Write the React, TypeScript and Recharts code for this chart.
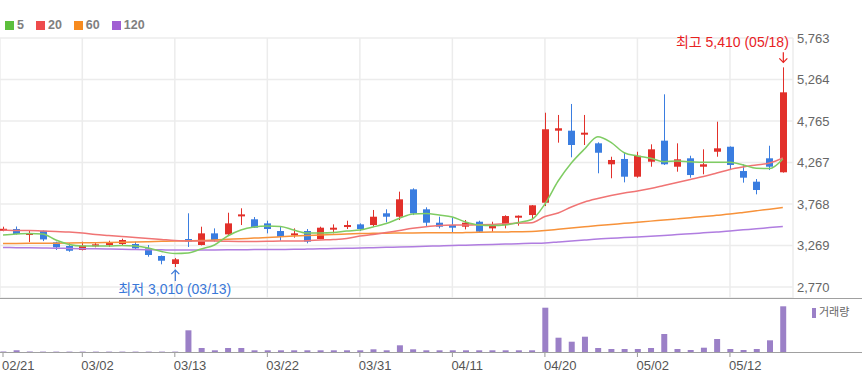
import { ComposedChart, Bar, Line, XAxis, YAxis, CartesianGrid, ReferenceDot } from 'recharts'

// 거래일 (2023)
const dates = [
  '02/21', '02/22', '02/23', '02/24', '02/27', '02/28', '03/02', '03/03', '03/06', '03/07',
  '03/08', '03/09', '03/10', '03/13', '03/14', '03/15', '03/16', '03/17', '03/20', '03/21',
  '03/22', '03/23', '03/24', '03/27', '03/28', '03/29', '03/30', '03/31', '04/03', '04/04',
  '04/05', '04/06', '04/07', '04/10', '04/11', '04/12', '04/13', '04/14', '04/17', '04/18',
  '04/19', '04/20', '04/21', '04/24', '04/25', '04/26', '04/27', '04/28', '05/02', '05/03',
  '05/04', '05/08', '05/09', '05/10', '05/11', '05/12', '05/15', '05/16', '05/17', '05/18',
]

const opens = [
  3460, 3467, 3395, 3446, 3307, 3263, 3215, 3263, 3275, 3287,
  3287, 3235, 3143, 3047, 3347, 3275, 3415, 3403, 3623, 3584,
  3535, 3443, 3395, 3443, 3347, 3463, 3495, 3523, 3515, 3656,
  3615, 3944, 3704, 3543, 3515, 3495, 3555, 3475, 3515, 3611,
  3635, 3783, 4649, 4649, 4609, 4497, 4245, 4309, 4096, 4276,
  4529, 4216, 4317, 4216, 4396, 4456, 4164, 4036, 4317, 4149,
]
const highs = [
  3495, 3497, 3443, 3450, 3315, 3299, 3315, 3307, 3327, 3351,
  3315, 3275, 3150, 3119, 3656, 3495, 3475, 3663, 3716, 3611,
  3567, 3495, 3475, 3467, 3495, 3523, 3567, 3535, 3696, 3704,
  3916, 3956, 3728, 3615, 3607, 3575, 3567, 3555, 3632, 3630,
  3755, 4865, 4838, 4970, 4838, 4509, 4336, 4389, 4396, 4485,
  5086, 4497, 4348, 4425, 4757, 4460, 4245, 4068, 4468, 5410,
]
const lows = [
  3440, 3400, 3311, 3322, 3215, 3194, 3210, 3247, 3251, 3267,
  3215, 3134, 3043, 3010, 3251, 3270, 3315, 3383, 3515, 3480,
  3415, 3327, 3363, 3295, 3345, 3415, 3467, 3443, 3495, 3547,
  3575, 3635, 3503, 3475, 3423, 3463, 3423, 3435, 3475, 3507,
  3584, 3743, 4505, 4329, 4477, 4137, 4077, 4028, 4084, 4216,
  4237, 4156, 4084, 4125, 4336, 4176, 4024, 3884, 4176, 4145,
]
const closes = [
  3470, 3407, 3419, 3342, 3247, 3206, 3267, 3283, 3307, 3335,
  3235, 3155, 3086, 3103, 3315, 3415, 3335, 3535, 3643, 3483,
  3467, 3375, 3415, 3315, 3483, 3483, 3515, 3467, 3615, 3615,
  3824, 3656, 3543, 3495, 3483, 3543, 3435, 3503, 3623, 3627,
  3752, 4666, 4678, 4477, 4625, 4384, 4297, 4096, 4348, 4425,
  4245, 4305, 4116, 4245, 4437, 4237, 4084, 3936, 4216, 5110,
]

const ma5 = [
  3395, 3407, 3413, 3407, 3335, 3281, 3263, 3263, 3263, 3269,
  3263, 3239, 3197, 3173, 3179, 3227, 3275, 3383, 3455, 3491,
  3503, 3497, 3455, 3419, 3419, 3425, 3443, 3455, 3491, 3533,
  3596, 3647, 3654, 3635, 3611, 3551, 3515, 3509, 3515, 3545,
  3582, 3768, 4044, 4261, 4429, 4577, 4509, 4384, 4345, 4317,
  4276, 4285, 4276, 4269, 4269, 4269, 4237, 4197, 4194, 4309,
]
const ma20 = [
  3455, 3449, 3449, 3443, 3437, 3431, 3419, 3401, 3389, 3377,
  3365, 3353, 3341, 3329, 3323, 3323, 3323, 3319, 3317, 3317,
  3319, 3323, 3323, 3327, 3335, 3341, 3353, 3383, 3400, 3425,
  3450, 3475, 3495, 3510, 3515, 3515, 3517, 3522, 3530, 3537,
  3543, 3617, 3659, 3732, 3792, 3834, 3870, 3900, 3924, 3954,
  3990, 4026, 4062, 4098, 4140, 4183, 4213, 4237, 4261, 4321,
]
const ma60 = [
  3293, 3294, 3295, 3296, 3297, 3299, 3301, 3303, 3306, 3308,
  3311, 3315, 3319, 3323, 3326, 3329, 3336, 3343, 3350, 3358,
  3365, 3374, 3383, 3390, 3396, 3402, 3408, 3413, 3415, 3417,
  3419, 3420, 3421, 3422, 3422, 3424, 3427, 3430, 3432, 3434,
  3437, 3449, 3464, 3479, 3494, 3509, 3522, 3535, 3548, 3562,
  3575, 3589, 3603, 3617, 3632, 3647, 3666, 3686, 3706, 3726,
]
const ma120 = [
  3245, 3243, 3241, 3239, 3237, 3233, 3231, 3229, 3226, 3223,
  3221, 3219, 3217, 3215, 3215, 3215, 3216, 3217, 3218, 3220,
  3221, 3222, 3223, 3226, 3229, 3233, 3236, 3239, 3243, 3247,
  3251, 3255, 3260, 3264, 3269, 3273, 3278, 3282, 3286, 3290,
  3295, 3299, 3311, 3323, 3335, 3347, 3355, 3364, 3372, 3380,
  3389, 3400, 3410, 3421, 3432, 3443, 3457, 3470, 3484, 3498,
]

// 거래량 (상대값)
const volumes = [
  4, 17, 4, 4, 4, 4, 4, 4, 4, 4,
  4, 4, 4, 4, 217, 40, 17, 40, 40, 17,
  17, 17, 17, 17, 17, 17, 17, 17, 27, 17,
  67, 27, 17, 17, 17, 17, 17, 17, 17, 17,
  17, 443, 143, 103, 153, 40, 30, 30, 30, 40,
  180, 30, 20, 43, 130, 30, 20, 30, 117, 457,
]

const tickLabels = ['02/21', '03/02', '03/13', '03/22', '03/31', '04/11', '04/20', '05/02', '05/12']
const priceTicks = [2770, 3269, 3768, 4267, 4765, 5264, 5763]
const maLabels = ['5', '20', '60', '120']

const UP = '#e2302a'
const DOWN = '#3a7de0'
const MA_COLORS = ['#5dbf3c', '#ee4b4b', '#f78b1f', '#a15fd3']
const MA_LINE = ['#7fcc63', '#f07474', '#f7923a', '#b07de0']
const VOL = '#9b80c7'
const FONT = "'Liberation Sans', Arial, 'Noto Sans CJK KR', sans-serif"

const X_DOMAIN: [number, number] = [-0.227, 59.77]

const data = dates.map((d, i) => ({
  i,
  date: d,
  open: opens[i],
  high: highs[i],
  low: lows[i],
  close: closes[i],
  range: [lows[i], highs[i]],
  ma5: ma5[i],
  ma20: ma20[i],
  ma60: ma60[i],
  ma120: ma120[i],
  volume: volumes[i],
}))

const tickIdx = tickLabels.map((t) => dates.indexOf(t))

const hiIdx = highs.indexOf(Math.max(...highs))
const loIdx = lows.indexOf(Math.min(...lows))
const fmt = (n: number) => n.toLocaleString('en-US')

function Candle(props: any) {
  const { x, y, width, height, payload } = props
  if (!payload) return null
  const { open, close, high, low } = payload
  const top = Math.min(y, y + height)
  const h = Math.abs(height)
  const k = high === low ? 0 : h / (high - low)
  const py = (p: number) => top + (high - p) * k
  const color = close >= open ? UP : DOWN
  const cx = Math.round(x + width / 2) + 0.5
  const bTop = py(Math.max(open, close))
  const bBot = py(Math.min(open, close))
  return (
    <g>
      <line x1={cx} x2={cx} y1={top} y2={top + h} stroke={color} strokeWidth={1} />
      <rect x={cx - 3.5} y={bTop} width={7} height={Math.max(bBot - bTop, 2)} fill={color} />
    </g>
  )
}

function HighMark({ cx, cy }: any) {
  return (
    <g>
      <text x={cx + 6} y={cy - 20} textAnchor="end" fill="#e8221f" fontSize={14}>
        {`최고 ${fmt(highs[hiIdx])} (${dates[hiIdx]})`}
      </text>
      <line x1={cx + 0.5} x2={cx + 0.5} y1={cy - 15} y2={cy - 5} stroke="#e8221f" strokeWidth={1.2} />
      <path d={`M${cx - 3.5} ${cy - 9} L${cx + 0.5} ${cy - 5} L${cx + 4.5} ${cy - 9}`} stroke="#e8221f" strokeWidth={1.2} fill="none" />
    </g>
  )
}

function LowMark({ cx, cy }: any) {
  return (
    <g>
      <line x1={cx + 0.5} x2={cx + 0.5} y1={cy + 3} y2={cy + 14} stroke="#3a78d8" strokeWidth={1.2} />
      <path d={`M${cx - 3.5} ${cy + 7} L${cx + 0.5} ${cy + 3} L${cx + 4.5} ${cy + 7}`} stroke="#3a78d8" strokeWidth={1.2} fill="none" />
      <text x={cx} y={cy + 27} textAnchor="middle" fill="#3a78d8" fontSize={14}>
        {`최저 ${fmt(lows[loIdx])} (${dates[loIdx]})`}
      </text>
    </g>
  )
}

function DateTick({ x, y, payload }: any) {
  return (
    <text x={x - 1} y={y} dy={11} textAnchor="start" fill="#555" fontSize={13} fontFamily={FONT}>
      {dates[payload.value]}
    </text>
  )
}

export default function App() {
  return (
    <div style={{ position: 'absolute', left: 0, top: 0, width: 862, height: 378, background: '#fff', fontFamily: FONT }}>
      {/* 이동평균 범례 */}
      <div style={{ position: 'absolute', left: 5, top: 19, display: 'flex', alignItems: 'center' }}>
        {maLabels.map((m, idx) => (
          <div key={m} style={{ display: 'flex', alignItems: 'center', marginRight: 12 }}>
            <span style={{ width: 9, height: 9, background: MA_COLORS[idx], display: 'inline-block', marginRight: 3 }} />
            <span style={{ fontSize: 12.5, fontWeight: 'bold', color: '#808080', lineHeight: '12px' }}>{m}</span>
          </div>
        ))}
      </div>

      <div style={{ position: 'absolute', left: 0, top: 0 }}>
        <ComposedChart width={862} height={300} data={data} margin={{ top: 38, right: 0, bottom: 2, left: 0 }}>
          <CartesianGrid stroke="#ececec" strokeWidth={1.5} />
          <XAxis dataKey="i" type="number" domain={X_DOMAIN} ticks={tickIdx} allowDataOverflow hide />
          <YAxis
            orientation="right"
            domain={[2638, 5763]}
            ticks={priceTicks}
            allowDataOverflow
            width={69}
            axisLine={false}
            tickLine={false}
            tickSize={2}
            tickMargin={2}
            tick={{ fill: '#666', fontSize: 13 }}
            tickFormatter={fmt}
            interval={0}
          />
          <Line dataKey="ma120" stroke={MA_LINE[3]} strokeWidth={1.5} dot={false} type="monotone" isAnimationActive={false} />
          <Line dataKey="ma60" stroke={MA_LINE[2]} strokeWidth={1.5} dot={false} type="monotone" isAnimationActive={false} />
          <Line dataKey="ma20" stroke={MA_LINE[1]} strokeWidth={1.5} dot={false} type="monotone" isAnimationActive={false} />
          <Bar dataKey="range" barSize={7} shape={<Candle />} isAnimationActive={false} />
          <Line dataKey="ma5" stroke={MA_LINE[0]} strokeWidth={1.5} dot={false} type="monotone" isAnimationActive={false} />
          <ReferenceDot x={hiIdx} y={highs[hiIdx]} shape={(p: any) => <HighMark {...p} />} />
          <ReferenceDot x={loIdx} y={lows[loIdx]} shape={(p: any) => <LowMark {...p} />} />
        </ComposedChart>
      </div>

      {/* 거래량 */}
      <div style={{ position: 'absolute', left: 0, top: 298, width: 862, height: 1, background: '#a0a0a0' }} />
      <div style={{ position: 'absolute', left: 0, top: 298 }}>
        <ComposedChart width={862} height={80} data={data} margin={{ top: 0, right: 69, bottom: 0, left: 0 }}>
          <XAxis
            dataKey="i"
            type="number"
            domain={X_DOMAIN}
            ticks={tickIdx}
            allowDataOverflow
            height={26}
            axisLine={false}
            tickLine={{ stroke: '#999' }}
            tickSize={5}
            tickMargin={2}
            tick={<DateTick />}
            interval={0}
          />
          <YAxis hide domain={[0, 540]} allowDataOverflow />
          <Bar dataKey="volume" fill={VOL} barSize={6} isAnimationActive={false} />
        </ComposedChart>
      </div>
      <div style={{ position: 'absolute', left: 0, top: 352, width: 862, height: 1, background: '#a0a0a0' }} />
      <div style={{ position: 'absolute', left: 812, top: 307, display: 'flex', alignItems: 'center' }}>
        <span style={{ width: 4, height: 10, background: VOL, display: 'inline-block', marginRight: 3 }} />
        <span style={{ fontSize: 11, color: '#666', lineHeight: '11px' }}>거래량</span>
      </div>
    </div>
  )
}
